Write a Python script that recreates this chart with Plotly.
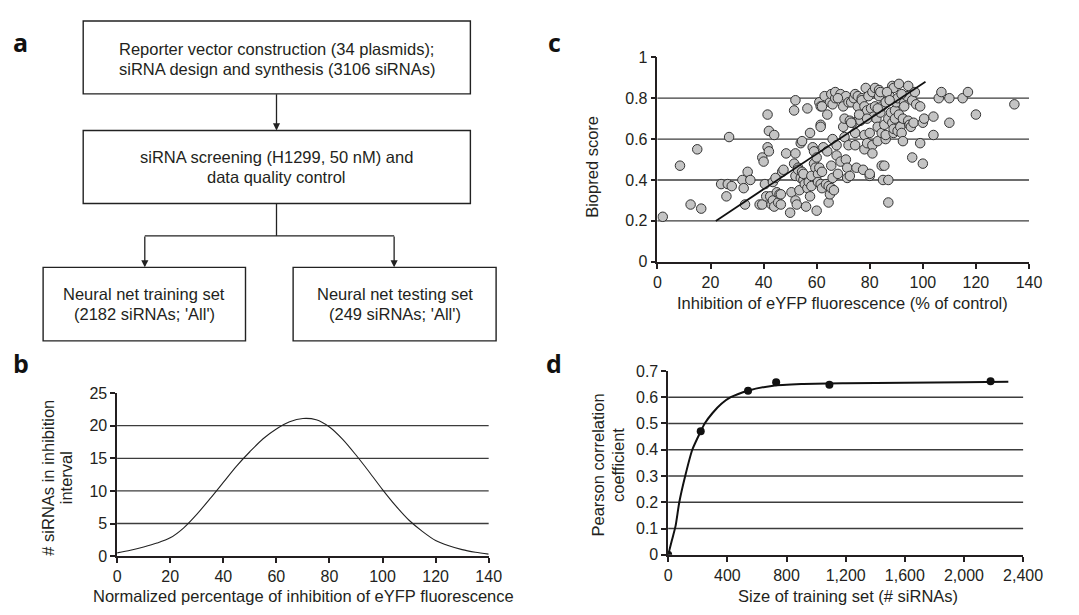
import plotly.graph_objects as go

W, H = 1079, 615

# ---------------- data ----------------
# panel b: distribution curve
b_x = [0, 5, 10, 15, 20, 25, 30, 35, 40, 45, 50, 55, 60, 65, 70, 75, 80, 85, 90, 95,
       100, 105, 110, 115, 120, 125, 130, 135, 140]
b_y = [0.5, 0.9, 1.4, 2.0, 2.8, 4.3, 6.4, 8.8, 11.3, 13.8, 16.0, 18.0, 19.5, 20.6, 21.1,
       20.9, 19.8, 17.9, 15.5, 12.9, 10.2, 7.7, 5.5, 3.8, 2.4, 1.6, 1.0, 0.6, 0.3]
b_xticks = [0, 20, 40, 60, 80, 100, 120, 140]
b_yticks = [0, 5, 10, 15, 20, 25]
b_grid = [5, 10, 15, 20]

# panel c: scatter
c_x = [2, 8.5, 12.5, 15, 16.5, 24, 26, 26.5, 27, 28, 32, 32.5, 33, 34, 35, 38.5, 39.5, 39.5, 40,
       40.5, 41, 41.5, 41.5, 42, 42, 42.5, 43, 43.5, 43.5, 44, 44, 44.5, 45, 45.5, 46, 46.5,
       46.5, 47, 47.5, 48.5, 50, 50.5, 51.5, 51.5, 52, 52, 52, 52, 52.5, 53, 53, 53.5, 54, 54,
       54.5, 54.5, 55, 55, 55.5, 56, 56.5, 56.5, 57, 57.5, 57.5, 58, 58, 58.5, 59, 59, 59.5,
       60, 60, 60.5, 60.5, 61, 61, 61.5, 61.5, 61.5, 61.5, 62, 62, 62.5, 63, 63.5, 64, 64.5,
       64.5, 65, 65, 65.5, 65.5, 65.5, 66, 66, 66, 66.5, 67, 67, 67.5, 67.5, 68, 69, 69, 70,
       70, 70.5, 70.5, 71, 71, 71.5, 71.5, 72, 72, 72.5, 72.5, 73, 73.5, 74, 74.5, 74.5, 74.5,
       75, 75.5, 75.5, 76, 76.5, 77, 77, 77.5, 78, 78, 78, 78.5, 79, 79, 79.5, 80, 80, 80,
       80.5, 81, 81, 81, 81.5, 82, 82, 82.5, 83, 83, 83.5, 83.5, 84, 84, 84.5, 84.5, 84.5, 85,
       85.5, 85.5, 86, 86, 86, 87, 87, 87, 87.5, 88, 88.5, 88.5, 89, 89, 89, 89.5, 89.5, 90,
       90.5, 90.5, 91, 91, 91.5, 92, 92.5, 92.5, 93, 93, 94, 94.5, 94.5, 95, 95.5, 96, 96,
       96.5, 97, 97.5, 99, 99, 100, 100, 100.5, 104, 104, 106, 107, 110, 110, 115, 117, 120,
       134.5, 68, 76, 86.5, 92, 62, 64, 79, 83, 73, 87.5]
c_y = [0.22, 0.47, 0.28, 0.55, 0.26, 0.38, 0.32, 0.38, 0.61, 0.37, 0.40, 0.36, 0.28, 0.44,
       0.40, 0.28, 0.28, 0.51, 0.49, 0.38, 0.32, 0.72, 0.56, 0.64, 0.54, 0.32, 0.28, 0.39,
       0.30, 0.62, 0.27, 0.41, 0.34, 0.29, 0.33, 0.28, 0.33, 0.44, 0.45, 0.53, 0.24, 0.34,
       0.74, 0.48, 0.79, 0.53, 0.42, 0.30, 0.28, 0.46, 0.45, 0.35, 0.41, 0.58, 0.59, 0.44,
       0.40, 0.43, 0.38, 0.27, 0.75, 0.36, 0.39, 0.63, 0.32, 0.42, 0.37, 0.56, 0.54, 0.48,
       0.46, 0.25, 0.51, 0.43, 0.39, 0.78, 0.46, 0.76, 0.67, 0.66, 0.38, 0.36, 0.44, 0.56,
       0.81, 0.38, 0.54, 0.37, 0.29, 0.33, 0.78, 0.82, 0.47, 0.36, 0.60, 0.77, 0.41, 0.35,
       0.80, 0.83, 0.57, 0.52, 0.43, 0.82, 0.49, 0.76, 0.66, 0.70, 0.61, 0.50, 0.81, 0.46,
       0.41, 0.57, 0.78, 0.69, 0.42, 0.78, 0.68, 0.80, 0.82, 0.63, 0.57, 0.46, 0.76, 0.81,
       0.70, 0.69, 0.80, 0.79, 0.45, 0.62, 0.76, 0.55, 0.85, 0.74, 0.58, 0.81, 0.63, 0.42,
       0.43, 0.75, 0.83, 0.57, 0.53, 0.71, 0.85, 0.76, 0.70, 0.66, 0.59, 0.84, 0.81, 0.83,
       0.73, 0.76, 0.63, 0.47, 0.40, 0.47, 0.67, 0.78, 0.60, 0.62, 0.70, 0.29, 0.40, 0.81,
       0.73, 0.68, 0.86, 0.85, 0.63, 0.65, 0.74, 0.70, 0.78, 0.80, 0.64, 0.87, 0.72, 0.66,
       0.63, 0.70, 0.59, 0.78, 0.76, 0.81, 0.86, 0.69, 0.67, 0.66, 0.79, 0.51, 0.68, 0.83,
       0.77, 0.76, 0.58, 0.68, 0.48, 0.70, 0.71, 0.62, 0.80, 0.83, 0.80, 0.68, 0.80, 0.83,
       0.72, 0.77, 0.80, 0.72, 0.83, 0.82, 0.76, 0.72, 0.70, 0.75, 0.68, 0.79]
c_fit_x = [22, 101]
c_fit_y = [0.20, 0.88]
c_xticks = [0, 20, 40, 60, 80, 100, 120, 140]
c_yticks = [0, 0.2, 0.4, 0.6, 0.8, 1]
c_ytext = ["0", "0.2", "0.4", "0.6", "0.8", "1"]
c_grid = [0.2, 0.4, 0.6, 0.8]

# panel d: training set size vs correlation
d_pts_x = [0, 220, 540, 730, 1090, 2180]
d_pts_y = [0.0, 0.47, 0.625, 0.657, 0.648, 0.661]
d_curve_x = [0, 25, 50, 75, 115, 163, 220, 247, 300, 360, 423, 540, 700, 900, 1200, 1600,
             2000, 2300]
d_curve_y = [0.0, 0.055, 0.11, 0.2, 0.3, 0.4, 0.47, 0.5, 0.54, 0.575, 0.6, 0.625, 0.643,
             0.65, 0.653, 0.655, 0.657, 0.659]
d_xticks = [0, 400, 800, 1200, 1600, 2000, 2400]
d_xtext = ["0", "400", "800", "1,200", "1,600", "2,000", "2,400"]
d_yticks = [0, 0.1, 0.2, 0.3, 0.4, 0.5, 0.6, 0.7]
d_ytext = ["0", "0.1", "0.2", "0.3", "0.4", "0.5", "0.6", "0.7"]
d_grid = [0.1, 0.2, 0.3, 0.4, 0.5, 0.6]

# flowchart text
box_texts = [
    ["Reporter vector construction (34 plasmids);", "siRNA design and synthesis (3106 siRNAs)"],
    ["siRNA screening (H1299, 50 nM) and", "data quality control"],
    ["Neural net training set", "(2182 siRNAs; 'All')"],
    ["Neural net testing set", "(249 siRNAs; 'All')"],
]

# ---------------- helpers ----------------
def px(x):
    return x / W

def py(y):
    return 1 - y / H

FONT = "Liberation Sans, Arial, sans-serif"
TXT = "#231f20"
AX = "#231f20"
GRID = "#3c3c3c"
TS = 16.5   # text size
KS = 16     # tick size

fig = go.Figure()

# panel b
fig.add_trace(go.Scatter(x=b_x, y=b_y, mode="lines",
                         line=dict(color="#222", width=1.1, shape="spline", smoothing=0.8),
                         xaxis="x", yaxis="y", showlegend=False, hoverinfo="skip"))
# panel c
fig.add_trace(go.Scatter(x=c_x, y=c_y, mode="markers",
                         marker=dict(size=9.5, color="#c4c4c4", line=dict(color="#333", width=1)),
                         xaxis="x2", yaxis="y2", showlegend=False))
fig.add_trace(go.Scatter(x=c_fit_x, y=c_fit_y, mode="lines", line=dict(color="#111", width=1.8),
                         xaxis="x2", yaxis="y2", showlegend=False))
# panel d
fig.add_trace(go.Scatter(x=d_curve_x, y=d_curve_y, mode="lines",
                         line=dict(color="#111", width=2, shape="spline", smoothing=0.6),
                         xaxis="x3", yaxis="y3", showlegend=False))
fig.add_trace(go.Scatter(x=d_pts_x, y=d_pts_y, mode="markers",
                         marker=dict(size=8, color="#111"),
                         xaxis="x3", yaxis="y3", showlegend=False))

axis_common = dict(showgrid=False, zeroline=False, showline=True, linecolor=AX, linewidth=1.5,
                   ticks="outside", ticklen=5, tickwidth=1.5, tickcolor=AX,
                   tickfont=dict(family=FONT, size=KS, color=TXT))

layout = dict(
    width=W, height=H, margin=dict(l=0, r=0, t=0, b=0),
    paper_bgcolor="white", plot_bgcolor="white",
    font=dict(family=FONT, color=TXT),
    xaxis=dict(domain=[px(115.7), px(495.7)], range=[0, 140], tickvals=b_xticks,
               anchor="y", **axis_common),
    yaxis=dict(domain=[py(563.7), py(396)], range=[0, 25], tickvals=b_yticks,
               anchor="x", **axis_common),
    xaxis2=dict(domain=[px(668.3), px(1048.3)], range=[0, 140], tickvals=c_xticks,
                anchor="y2", **axis_common),
    yaxis2=dict(domain=[py(261), py(50.7)], range=[0, 1], tickvals=c_yticks, ticktext=c_ytext,
                anchor="x2", **axis_common),
    xaxis3=dict(domain=[px(679.3), px(1042.3)], range=[0, 2400], tickvals=d_xticks,
                ticktext=d_xtext, anchor="y3", **axis_common),
    yaxis3=dict(domain=[py(562.3), py(373.3)], range=[0, 0.7], tickvals=d_yticks,
                ticktext=d_ytext, anchor="x3", **axis_common),
)
fig.update_layout(**layout)

shapes = []
for g in b_grid:
    shapes.append(dict(type="line", xref="x domain", yref="y", x0=0, x1=1, y0=g, y1=g,
                       line=dict(color=GRID, width=1.3), layer="below"))
for g in c_grid:
    shapes.append(dict(type="line", xref="x2 domain", yref="y2", x0=0, x1=1, y0=g, y1=g,
                       line=dict(color=GRID, width=1.3), layer="below"))
for g in d_grid:
    shapes.append(dict(type="line", xref="x3 domain", yref="y3", x0=0, x1=1, y0=g, y1=g,
                       line=dict(color=GRID, width=1.3), layer="below"))

# flowchart boxes (pixel geometry)
boxes = [(81, 13.3, 477, 88.3), (81, 126, 477, 201), (40, 266.7, 247, 342.3), (295.7, 266.7, 503.3, 342.3)]
for (x0, y0, x1, y1) in boxes:
    shapes.append(dict(type="rect", xref="paper", yref="paper", x0=px(x0), x1=px(x1),
                       y0=py(y1), y1=py(y0), line=dict(color="#222", width=1.4)))
# connectors
shapes.append(dict(type="line", xref="paper", yref="paper", x0=px(278.7), x1=px(278.7),
                   y0=py(201), y1=py(234.3), line=dict(color="#222", width=1.3)))
shapes.append(dict(type="line", xref="paper", yref="paper", x0=px(144), x1=px(399),
                   y0=py(234.3), y1=py(234.3), line=dict(color="#222", width=1.3)))
fig.update_layout(shapes=shapes)

ann = []
# arrows
for (x, ytail, ytip) in [(278.7, 88.3, 126), (144, 234.3, 266.7), (399, 234.3, 266.7)]:
    ann.append(dict(xref="paper", yref="paper", x=px(x), y=py(ytip), ax=0, ay=-(ytip - ytail),
                    text="", showarrow=True, arrowhead=2, arrowsize=1.1, arrowwidth=1.3,
                    arrowcolor="#222"))
# box text
centers = [(279, 41.7, 62.3), (279, 153.3, 174), (143.5, 294.3, 315), (399.5, 294.3, 315)]
for (cx, y1, y2), lines in zip(centers, box_texts):
    for yy, t in zip((y1, y2), lines):
        ann.append(dict(xref="paper", yref="paper", x=px(cx), y=py(yy), text=t, showarrow=False,
                        xanchor="center", yanchor="middle",
                        font=dict(family=FONT, size=TS, color=TXT)))
# panel letters
for letter, (lx, ly) in {"a": (17, 35), "b": (17, 365), "c": (563, 35), "d": (563, 365)}.items():
    ann.append(dict(xref="paper", yref="paper", x=px(lx), y=py(ly), text="<b>%s</b>" % letter,
                    showarrow=False, xanchor="center", yanchor="middle",
                    font=dict(family="Open Sans, DejaVu Sans, sans-serif", size=25, color="#111")))
# axis titles
def title(text, x, y, angle=0):
    ann.append(dict(xref="paper", yref="paper", x=px(x), y=py(y), text=text, showarrow=False,
                    xanchor="center", yanchor="middle", textangle=angle,
                    font=dict(family=FONT, size=TS, color=TXT)))

title("Normalized percentage of inhibition of eYFP fluorescence", 306.7, 605)
title("# siRNAs in inhibition", 45, 483, -90)
title("interval", 63, 483, -90)
title("Inhibition of eYFP fluorescence (% of control)", 858, 303)
title("Biopred score", 601.7, 163, -90)
title("Size of training set (# siRNAs)", 863, 605)
title("Pearson correlation", 608, 470, -90)
title("coefficient", 628, 470, -90)
fig.update_layout(annotations=ann)

fig.write_html("out.html")
